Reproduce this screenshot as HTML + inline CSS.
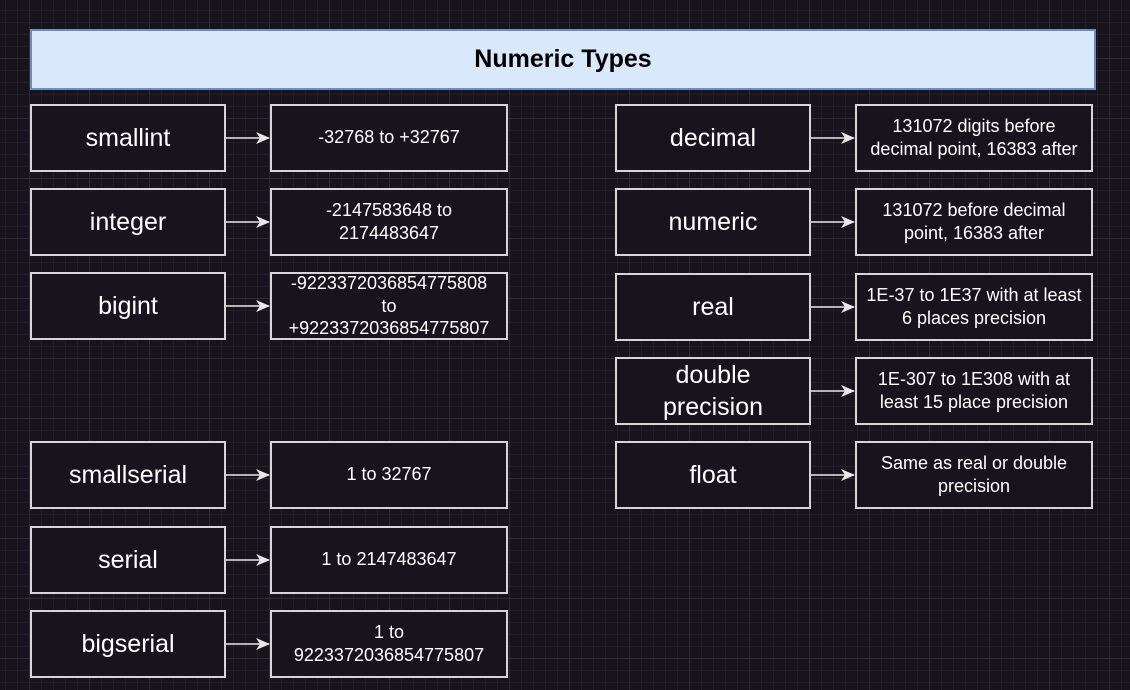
<!DOCTYPE html>
<html><head><style>
body{margin:0;width:1130px;height:690px;overflow:hidden;background:#18141d;
background-image:linear-gradient(#2e2c33 1px,transparent 1px),linear-gradient(90deg,#2e2c33 1px,transparent 1px),linear-gradient(#211e26 1px,transparent 1px),linear-gradient(90deg,#211e26 1px,transparent 1px);
background-size:60px 60px,60px 60px,12px 12px,12px 12px;background-position:0 -2px,29px 0,0 -2px,29px 0;
font-family:"Liberation Sans",Arial,sans-serif;position:relative}
.b{position:absolute;box-sizing:border-box;border:2px solid #d6d6d6;background:#18141d;color:#fff;display:flex;align-items:center;justify-content:center;text-align:center;line-height:1.3}
.n{font-size:25px;width:196px;height:68px}
.v{font-size:18px;width:238px;height:68px;line-height:1.3}
.t{left:30px;top:29px;width:1066px;height:61px;background:#dae8fc;border-color:#6c8ebf;color:#000;font-weight:bold;font-size:25px}
svg{position:absolute;left:0;top:0}
</style></head><body>
<div class="b t">Numeric Types</div>
<div class="b n" style="left:30px;top:104px">smallint</div>
<div class="b v" style="left:270px;top:104px">-32768 to +32767</div>
<div class="b n" style="left:30px;top:188px">integer</div>
<div class="b v" style="left:270px;top:188px">-2147583648 to<br>2174483647</div>
<div class="b n" style="left:30px;top:272px">bigint</div>
<div class="b v" style="left:270px;top:272px;line-height:1.25">-9223372036854775808<br>to<br>+9223372036854775807</div>
<div class="b n" style="left:30px;top:441px">smallserial</div>
<div class="b v" style="left:270px;top:441px">1 to 32767</div>
<div class="b n" style="left:30px;top:526px">serial</div>
<div class="b v" style="left:270px;top:526px">1 to 2147483647</div>
<div class="b n" style="left:30px;top:610px">bigserial</div>
<div class="b v" style="left:270px;top:610px">1 to<br>9223372036854775807</div>
<div class="b n" style="left:615px;top:104px">decimal</div>
<div class="b v" style="left:855px;top:104px">131072 digits before<br>decimal point, 16383 after</div>
<div class="b n" style="left:615px;top:188px">numeric</div>
<div class="b v" style="left:855px;top:188px">131072 before decimal<br>point, 16383 after</div>
<div class="b n" style="left:615px;top:273px">real</div>
<div class="b v" style="left:855px;top:273px">1E-37 to 1E37 with at least<br>6 places precision</div>
<div class="b n" style="left:615px;top:357px">double<br>precision</div>
<div class="b v" style="left:855px;top:357px">1E-307 to 1E308 with at<br>least 15 place precision</div>
<div class="b n" style="left:615px;top:441px">float</div>
<div class="b v" style="left:855px;top:441px">Same as real or double<br>precision</div>
<svg width="1130" height="690">
<defs><marker id="a" markerWidth="14" markerHeight="12" refX="13" refY="6" orient="auto" markerUnits="userSpaceOnUse"><path d="M0,0 L14,6 L0,12 L4,6 Z" fill="#e8e8e8"/></marker></defs>
<g stroke="#e8e8e8" stroke-width="1.5" marker-end="url(#a)">
<line x1="226" y1="138" x2="269" y2="138"/>
<line x1="226" y1="222" x2="269" y2="222"/>
<line x1="226" y1="306" x2="269" y2="306"/>
<line x1="226" y1="475" x2="269" y2="475"/>
<line x1="226" y1="560" x2="269" y2="560"/>
<line x1="226" y1="644" x2="269" y2="644"/>
<line x1="811" y1="138" x2="854" y2="138"/>
<line x1="811" y1="222" x2="854" y2="222"/>
<line x1="811" y1="307" x2="854" y2="307"/>
<line x1="811" y1="391" x2="854" y2="391"/>
<line x1="811" y1="475" x2="854" y2="475"/>
</g></svg>
</body></html>
